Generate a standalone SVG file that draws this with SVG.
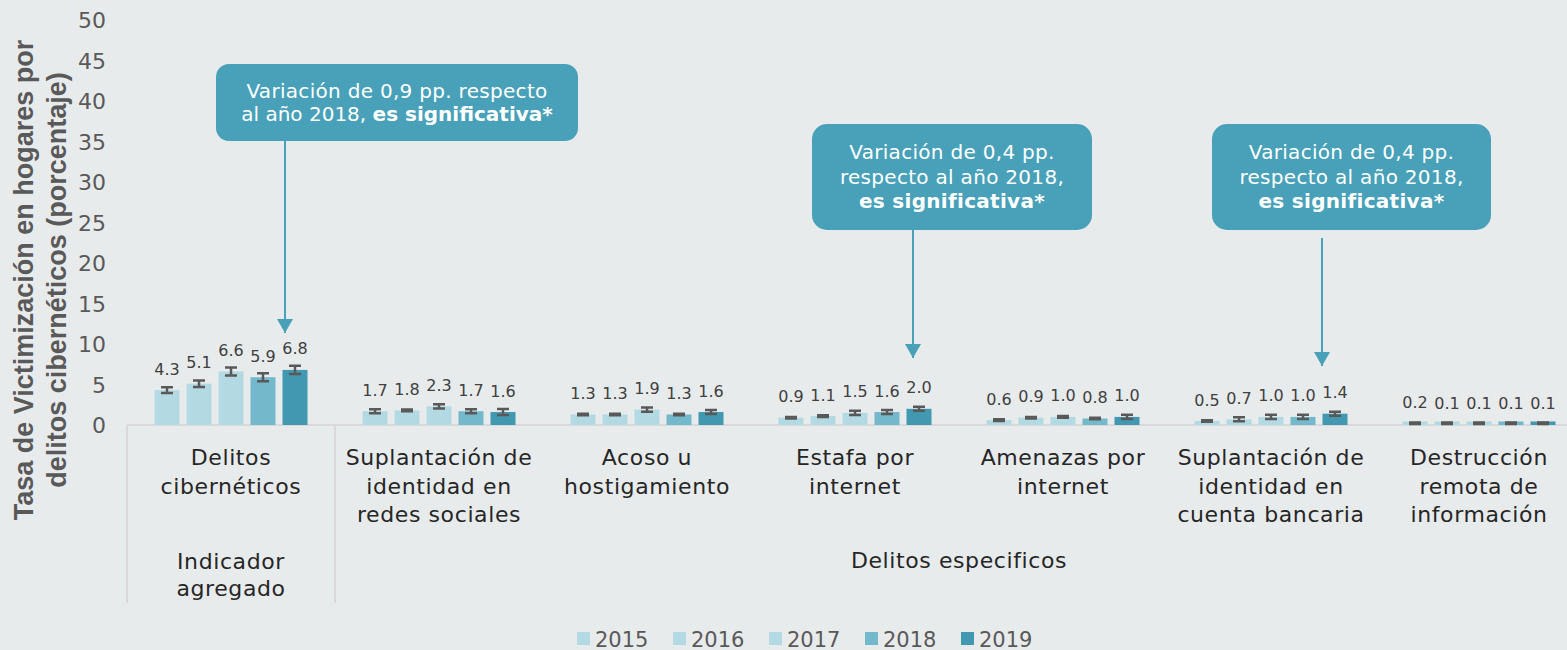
<svg xmlns="http://www.w3.org/2000/svg" width="1567" height="650" viewBox="0 0 1567 650">
<style>
text{font-family:"DejaVu Sans","Liberation Sans",sans-serif}
.tick{font-size:22px;fill:#595959;text-anchor:end}
.val{font-size:16px;fill:#404040;text-anchor:middle}
.cat{font-size:22px;fill:#262626;text-anchor:middle;letter-spacing:0.6px}
.ttl{font-family:"Liberation Sans",Arial,sans-serif;font-weight:bold;font-size:27px;fill:#595959;text-anchor:middle}
.leg{font-size:21px;fill:#595959}
.b15,.b16,.b17{fill:#B3D9E3}
.b18{fill:#74B8CB}
.b19{fill:#4398B1}
.err{stroke:#595959;stroke-width:2.5;fill:none}
.axis{stroke:#D9D9D9;stroke-width:2;fill:none}
.box{fill:#48A1B8}
.ct{font-size:20px;fill:#FFFFFF;text-anchor:middle;letter-spacing:0.3px}
.ct .bd{font-weight:bold}
.tight{letter-spacing:0px}
.arr{stroke:#48A1B8;stroke-width:2;fill:none}
</style>
<defs>
<marker id="ah" markerUnits="userSpaceOnUse" markerWidth="16" markerHeight="16" refX="14" refY="8" orient="auto">
<path d="M0,0 L14,8 L0,16 z" fill="#48A1B8"/>
</marker>
</defs>
<rect x="0" y="0" width="1567" height="650" fill="#E8EBEC"/>

<g id="y-axis">
<text class="ttl" transform="translate(33,280) rotate(-90)">Tasa de Victimización en hogares por</text>
<text class="ttl" transform="translate(66,280) rotate(-90)">delitos cibernéticos (porcentaje)</text>
<text class="tick" x="106" y="28">50</text>
<text class="tick" x="106" y="68.5">45</text>
<text class="tick" x="106" y="109">40</text>
<text class="tick" x="106" y="149.5">35</text>
<text class="tick" x="106" y="190">30</text>
<text class="tick" x="106" y="230.5">25</text>
<text class="tick" x="106" y="271">20</text>
<text class="tick" x="106" y="311.5">15</text>
<text class="tick" x="106" y="352">10</text>
<text class="tick" x="106" y="392.5">5</text>
<text class="tick" x="106" y="433">0</text>
</g>

<g id="x-axis">
<path class="axis" d="M127,425 H1567 M127,425 V603 M335,425 V603"/>
<text class="cat" x="231" y="465">Delitos</text>
<text class="cat" x="231" y="494">cibernéticos</text>
<text class="cat" x="439" y="465">Suplantación de</text>
<text class="cat" x="439" y="494">identidad en</text>
<text class="cat" x="439" y="522">redes sociales</text>
<text class="cat" x="647" y="465">Acoso u</text>
<text class="cat" x="647" y="494">hostigamiento</text>
<text class="cat" x="855" y="465">Estafa por</text>
<text class="cat" x="855" y="494">internet</text>
<text class="cat" x="1063" y="465">Amenazas por</text>
<text class="cat" x="1063" y="494">internet</text>
<text class="cat" x="1271" y="465">Suplantación de</text>
<text class="cat" x="1271" y="494">identidad en</text>
<text class="cat" x="1271" y="522">cuenta bancaria</text>
<text class="cat" x="1479" y="465">Destrucción</text>
<text class="cat" x="1479" y="494">remota de</text>
<text class="cat" x="1479" y="522">información</text>
<text class="cat" x="231" y="569">Indicador</text>
<text class="cat" x="231" y="596">agregado</text>
<text class="cat" x="959" y="568">Delitos especificos</text>
</g>

<g id="bars">
<rect class="b15" x="154.5" y="390.17" width="25" height="34.83"/>
<rect class="b16" x="186.5" y="383.69" width="25" height="41.31"/>
<rect class="b17" x="218.5" y="371.54" width="25" height="53.46"/>
<rect class="b18" x="250.5" y="377.21" width="25" height="47.79"/>
<rect class="b19" x="282.5" y="369.92" width="25" height="55.08"/>
<rect class="b15" x="362.5" y="411.23" width="25" height="13.77"/>
<rect class="b16" x="394.5" y="410.42" width="25" height="14.58"/>
<rect class="b17" x="426.5" y="406.37" width="25" height="18.63"/>
<rect class="b18" x="458.5" y="411.23" width="25" height="13.77"/>
<rect class="b19" x="490.5" y="412.04" width="25" height="12.96"/>
<rect class="b15" x="570.5" y="414.47" width="25" height="10.53"/>
<rect class="b16" x="602.5" y="414.47" width="25" height="10.53"/>
<rect class="b17" x="634.5" y="409.61" width="25" height="15.39"/>
<rect class="b18" x="666.5" y="414.47" width="25" height="10.53"/>
<rect class="b19" x="698.5" y="412.04" width="25" height="12.96"/>
<rect class="b15" x="778.5" y="417.71" width="25" height="7.29"/>
<rect class="b16" x="810.5" y="416.09" width="25" height="8.91"/>
<rect class="b17" x="842.5" y="412.85" width="25" height="12.15"/>
<rect class="b18" x="874.5" y="412.04" width="25" height="12.96"/>
<rect class="b19" x="906.5" y="408.8" width="25" height="16.2"/>
<rect class="b15" x="986.5" y="420.14" width="25" height="4.86"/>
<rect class="b16" x="1018.5" y="417.71" width="25" height="7.29"/>
<rect class="b17" x="1050.5" y="416.9" width="25" height="8.1"/>
<rect class="b18" x="1082.5" y="418.52" width="25" height="6.48"/>
<rect class="b19" x="1114.5" y="416.9" width="25" height="8.1"/>
<rect class="b15" x="1194.5" y="420.95" width="25" height="4.05"/>
<rect class="b16" x="1226.5" y="419.33" width="25" height="5.67"/>
<rect class="b17" x="1258.5" y="416.9" width="25" height="8.1"/>
<rect class="b18" x="1290.5" y="416.9" width="25" height="8.1"/>
<rect class="b19" x="1322.5" y="413.66" width="25" height="11.34"/>
<rect class="b15" x="1402.5" y="421.5" width="25" height="3.5"/>
<rect class="b16" x="1434.5" y="421.5" width="25" height="3.5"/>
<rect class="b17" x="1466.5" y="421.5" width="25" height="3.5"/>
<rect class="b18" x="1498.5" y="421.5" width="25" height="3.5"/>
<rect class="b19" x="1530.5" y="421.5" width="25" height="3.5"/>
</g>

<g id="error-bars">
<path class="err" d="
M161,387.3H173M167,387.3V393M161,393H173
M193,380.45H205M199,380.45V386.93M193,386.93H205
M225,367.49H237M231,367.49V375.59M225,375.59H237
M257,373.16H269M263,373.16V381.26M257,381.26H269
M289,365.87H301M295,365.87V373.97M289,373.97H301
M369,409.2H381M375,409.2V413.26M369,413.26H381
M401,409.61H413M407,409.61V411.23M401,411.23H413
M433,404.34H445M439,404.34V408.4M433,408.4H445
M465,409.2H477M471,409.2V413.26M465,413.26H477
M497,409.04H509M503,409.04V415.04M497,415.04H509
M577,413.66H589M583,413.66V415.28M577,415.28H589
M609,413.66H621M615,413.66V415.28M609,415.28H621
M641,407.58H653M647,407.58V411.64M641,411.64H653
M673,413.66H685M679,413.66V415.28M673,415.28H685
M705,410.01H717M711,410.01V414.07M705,414.07H717
M785,416.9H797M791,416.9V418.52M785,418.52H797
M817,415.28H829M823,415.28V416.9M817,416.9H829
M849,410.82H861M855,410.82V414.88M849,414.88H861
M881,410.01H893M887,410.01V414.07M881,414.07H893
M913,406.77H925M919,406.77V410.83M913,410.83H925
M993,419.33H1005M999,419.33V420.95M993,420.95H1005
M1025,416.9H1037M1031,416.9V418.52M1025,418.52H1037
M1057,416.09H1069M1063,416.09V417.71M1057,417.71H1069
M1089,417.71H1101M1095,417.71V419.33M1089,419.33H1101
M1121,414.87H1133M1127,414.87V418.93M1121,418.93H1133
M1201,420.14H1213M1207,420.14V421.76M1201,421.76H1213
M1233,417.3H1245M1239,417.3V421.36M1233,421.36H1245
M1265,414.87H1277M1271,414.87V418.93M1265,418.93H1277
M1297,414.87H1309M1303,414.87V418.93M1297,418.93H1309
M1329,411.63H1341M1335,411.63V415.69M1329,415.69H1341
M1409,422.4H1421M1415,422.4V424M1409,424H1421
M1441,422.4H1453M1447,422.4V424M1441,424H1453
M1473,422.4H1485M1479,422.4V424M1473,424H1485
M1505,422.4H1517M1511,422.4V424M1505,424H1517
M1537,422.4H1549M1543,422.4V424M1537,424H1549"/>
</g>

<g id="value-labels">
<text class="val" x="167" y="374.7">4.3</text>
<text class="val" x="199" y="368.2">5.1</text>
<text class="val" x="231" y="356">6.6</text>
<text class="val" x="263" y="361.7">5.9</text>
<text class="val" x="295" y="354.4">6.8</text>
<text class="val" x="375" y="395.7">1.7</text>
<text class="val" x="407" y="394.9">1.8</text>
<text class="val" x="439" y="390.9">2.3</text>
<text class="val" x="471" y="395.7">1.7</text>
<text class="val" x="503" y="396.5">1.6</text>
<text class="val" x="583" y="399">1.3</text>
<text class="val" x="615" y="399">1.3</text>
<text class="val" x="647" y="394.1">1.9</text>
<text class="val" x="679" y="399">1.3</text>
<text class="val" x="711" y="396.5">1.6</text>
<text class="val" x="791" y="402.2">0.9</text>
<text class="val" x="823" y="400.6">1.1</text>
<text class="val" x="855" y="397.4">1.5</text>
<text class="val" x="887" y="396.5">1.6</text>
<text class="val" x="919" y="393.3">2.0</text>
<text class="val" x="999" y="404.6">0.6</text>
<text class="val" x="1031" y="402.2">0.9</text>
<text class="val" x="1063" y="401.4">1.0</text>
<text class="val" x="1095" y="403">0.8</text>
<text class="val" x="1127" y="401.4">1.0</text>
<text class="val" x="1207" y="405.5">0.5</text>
<text class="val" x="1239" y="403.8">0.7</text>
<text class="val" x="1271" y="401.4">1.0</text>
<text class="val" x="1303" y="401.4">1.0</text>
<text class="val" x="1335" y="398.2">1.4</text>
<text class="val" x="1415" y="407.9">0.2</text>
<text class="val" x="1447" y="408.7">0.1</text>
<text class="val" x="1479" y="408.7">0.1</text>
<text class="val" x="1511" y="408.7">0.1</text>
<text class="val" x="1543" y="408.7">0.1</text>
</g>

<g id="connectors">
<line class="arr" x1="285" y1="141" x2="285" y2="333" marker-end="url(#ah)"/>
<line class="arr" x1="913" y1="230" x2="913" y2="358" marker-end="url(#ah)"/>
<line class="arr" x1="1322" y1="238" x2="1322" y2="366" marker-end="url(#ah)"/>
</g>

<g id="callout-1">
<rect class="box" x="216" y="64" width="362" height="77" rx="13"/>
<text class="ct" x="397" y="98">Variación de 0,9 pp. respecto</text>
<text class="ct tight" x="397" y="121">al año 2018, <tspan class="bd">es significativa*</tspan></text>
</g>

<g id="callout-2">
<rect class="box" x="812" y="124" width="280" height="106" rx="15"/>
<text class="ct" x="952" y="159">Variación de 0,4 pp.</text>
<text class="ct" x="952" y="184">respecto al año 2018,</text>
<text class="ct" x="952" y="208"><tspan class="bd">es significativa*</tspan></text>
</g>

<g id="callout-3">
<rect class="box" x="1212" y="124" width="279" height="106" rx="15"/>
<text class="ct" x="1351.5" y="159">Variación de 0,4 pp.</text>
<text class="ct" x="1351.5" y="184">respecto al año 2018,</text>
<text class="ct" x="1351.5" y="208"><tspan class="bd">es significativa*</tspan></text>
</g>

<g id="legend">
<rect class="b15" x="577" y="632" width="13" height="13"/>
<text class="leg" x="595" y="647">2015</text>
<rect class="b16" x="673" y="632" width="13" height="13"/>
<text class="leg" x="691" y="647">2016</text>
<rect class="b17" x="769" y="632" width="13" height="13"/>
<text class="leg" x="787" y="647">2017</text>
<rect class="b18" x="865" y="632" width="13" height="13"/>
<text class="leg" x="883" y="647">2018</text>
<rect class="b19" x="961" y="632" width="13" height="13"/>
<text class="leg" x="979" y="647">2019</text>
</g>
</svg>
